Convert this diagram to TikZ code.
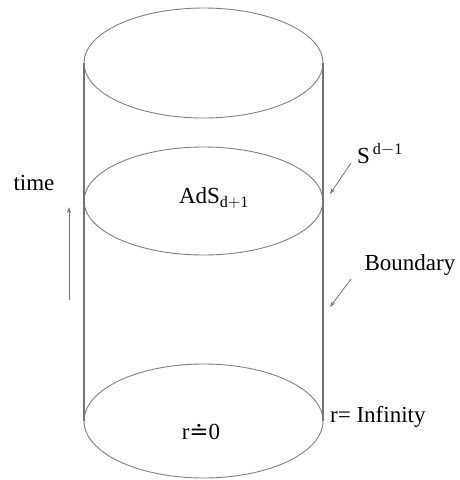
\documentclass[tikz,border=0pt]{standalone}
\usepackage{fontspec}
\setmainfont{Liberation Serif}
\newfontfamily\symfont{DejaVu Serif}
\usetikzlibrary{arrows.meta}
\begin{document}
\begin{tikzpicture}[x=1pt,y=-1pt,
  rim/.style={draw=black!50,line width=0.9pt},
  side/.style={draw=black!55,line width=1.3pt},
  pointer/.style={draw=black!55,line width=0.8pt,-{Stealth[length=6pt,width=4pt]}},
  lbl/.style={font=\fontsize{23}{26}\selectfont,inner sep=0pt}]
\useasboundingbox (0,0) rectangle (460,480);
% ellipses
\draw[rim] (203.5,63) ellipse [x radius=119.5, y radius=55];
\draw[rim] (203.5,201) ellipse [x radius=119.5, y radius=54];
\draw[rim] (203.5,421) ellipse [x radius=119.5, y radius=57];
% sides
\coordinate (tl) at (84,63);
\coordinate (bl) at (84,421);
\coordinate (tr) at (323,63);
\coordinate (br) at (323,421);
\draw[side] (tl) -- (bl);
\draw[side] (tr) -- (br);
% time
\node[lbl] (time) at (34,183) {time};
\coordinate (ta) at (69,300);
\coordinate (tb) at (69,207);
\draw[pointer] (ta) -- (tb);
% labels
\node[lbl] (ads) at (214,198) {AdS$_{\mathrm{d+1}}$};
\node[lbl,anchor=west] (sph) at (357,154) {S$^{\,\mathrm{d-1}}$};
\coordinate (s1) at (351,163);
\coordinate (s2) at (330,194);
\draw[pointer] (s1) -- (s2);
\node[lbl] (bnd) at (410,265) {Boundary};
\coordinate (b1) at (351,279);
\coordinate (b2) at (330,307);
\draw[pointer] (b1) -- (b2);
\node[lbl,anchor=west] (rinf) at (330,417) {r= Infinity};
\node[lbl] (r0) at (201,432) {r{\symfont ≐}0};
\end{tikzpicture}
\end{document}
